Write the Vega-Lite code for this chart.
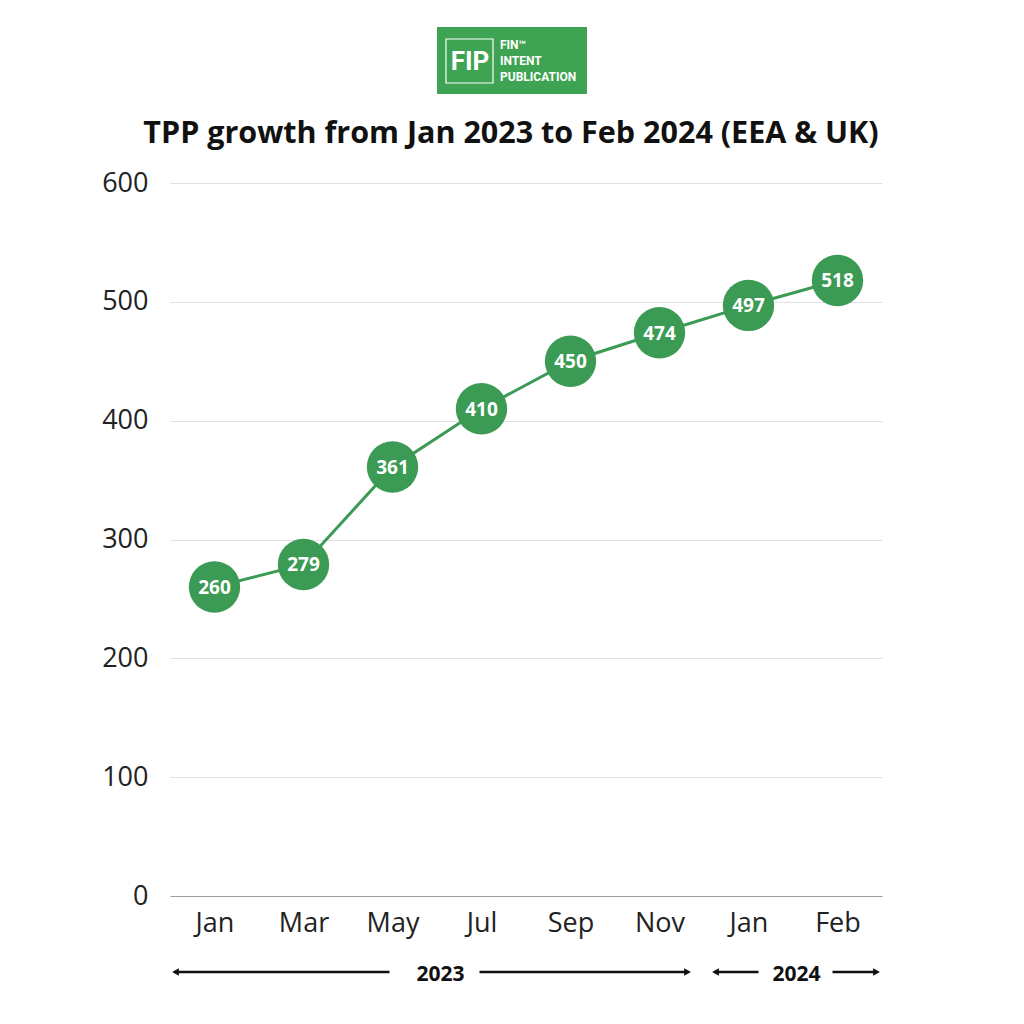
{
  "$schema": "https://vega.github.io/schema/vega-lite/v6.json",
  "autosize": {"type": "none"},
  "width": 712,
  "height": 713,
  "padding": {"left": 170, "top": 183, "right": 142, "bottom": 128},
  "background": "white",
  "config": {"view": {"stroke": null}},
  "datasets": {
    "tpp": [
      {"month": "Jan 2023", "tpp": 260},
      {"month": "Mar 2023", "tpp": 279},
      {"month": "May 2023", "tpp": 361},
      {"month": "Jul 2023", "tpp": 410},
      {"month": "Sep 2023", "tpp": 450},
      {"month": "Nov 2023", "tpp": 474},
      {"month": "Jan 2024", "tpp": 497},
      {"month": "Feb 2024", "tpp": 518}
    ],
    "years": [
      {"year": "2023", "first": "Jan 2023", "before": "May 2023", "after": "Jul 2023", "last": "Nov 2023"},
      {"year": "2024", "first": "Jan 2024", "before": "Jan 2024", "after": "Feb 2024", "last": "Feb 2024"}
    ],
    "logo": [
      {"brand": "FIP", "line1": "FIN™", "line2": "INTENT", "line3": "PUBLICATION", "title": "TPP growth from Jan 2023 to Feb 2024 (EEA & UK)"}
    ]
  },
  "layer": [
    {
      "data": {"name": "tpp"},
      "mark": {"type": "line", "color": "#3b9a53", "strokeWidth": 3},
      "encoding": {
        "x": {
          "field": "month",
          "type": "ordinal",
          "sort": null,
          "scale": {"type": "point", "padding": 0.5},
          "axis": {
            "title": null,
            "labelExpr": "split(datum.value, ' ')[0]",
            "labelAngle": 0,
            "labelFont": "Open Sans",
            "labelFontSize": 27,
            "labelColor": "#222222",
            "labelPadding": 14,
            "ticks": false,
            "domainColor": "#a0a0a0",
            "domainWidth": 1,
            "grid": false
          }
        },
        "y": {
          "field": "tpp",
          "type": "quantitative",
          "scale": {"domain": [0, 600], "nice": false},
          "axis": {
            "title": null,
            "values": [0, 100, 200, 300, 400, 500, 600],
            "labelFont": "Open Sans",
            "labelFontSize": 27,
            "labelColor": "#222222",
            "labelPadding": 22,
            "ticks": false,
            "domain": false,
            "gridColor": "#e2e2e2",
            "gridWidth": 1
          }
        }
      }
    },
    {
      "data": {"name": "tpp"},
      "mark": {"type": "circle", "size": 2640, "color": "#3b9a53", "opacity": 1},
      "encoding": {
        "x": {"field": "month", "type": "ordinal", "sort": null},
        "y": {"field": "tpp", "type": "quantitative"}
      }
    },
    {
      "data": {"name": "tpp"},
      "mark": {"type": "text", "font": "Open Sans", "fontWeight": "bold", "fontSize": 19, "color": "white", "baseline": "middle", "dy": 1},
      "encoding": {
        "x": {"field": "month", "type": "ordinal", "sort": null},
        "y": {"field": "tpp", "type": "quantitative"},
        "text": {"field": "tpp", "type": "quantitative"}
      }
    },
    {
      "data": {"name": "years"},
      "mark": {
        "type": "rule", "color": "#111111", "strokeWidth": 2.5,
        "xOffset": {"expr": "datum.year == '2023' ? -40 : -34"},
        "x2Offset": {"expr": "datum.year == '2023' ? -3 : 10"},
        "yOffset": 76
      },
      "encoding": {
        "x": {"field": "first", "type": "ordinal", "sort": null},
        "x2": {"field": "before"},
        "y": {"datum": 0, "type": "quantitative"}
      }
    },
    {
      "data": {"name": "years"},
      "mark": {
        "type": "rule", "color": "#111111", "strokeWidth": 2.5,
        "xOffset": {"expr": "datum.year == '2023' ? -2 : -5"},
        "x2Offset": {"expr": "datum.year == '2023' ? 29 : 40"},
        "yOffset": 76
      },
      "encoding": {
        "x": {"field": "after", "type": "ordinal", "sort": null},
        "x2": {"field": "last"},
        "y": {"datum": 0, "type": "quantitative"}
      }
    },
    {
      "data": {"name": "years"},
      "mark": {
        "type": "point", "shape": "triangle-left", "filled": true, "size": 60, "color": "#111111", "opacity": 1,
        "xOffset": {"expr": "datum.year == '2023' ? -39 : -33"},
        "yOffset": 76
      },
      "encoding": {
        "x": {"field": "first", "type": "ordinal", "sort": null},
        "y": {"datum": 0, "type": "quantitative"}
      }
    },
    {
      "data": {"name": "years"},
      "mark": {
        "type": "point", "shape": "triangle-right", "filled": true, "size": 60, "color": "#111111", "opacity": 1,
        "xOffset": {"expr": "datum.year == '2023' ? 28 : 39"},
        "yOffset": 76
      },
      "encoding": {
        "x": {"field": "last", "type": "ordinal", "sort": null},
        "y": {"datum": 0, "type": "quantitative"}
      }
    },
    {
      "data": {"name": "years"},
      "mark": {
        "type": "text", "font": "Open Sans", "fontWeight": "bold", "fontSize": 21, "color": "#111111",
        "baseline": "middle", "xOffset": 48, "yOffset": 79
      },
      "encoding": {
        "x": {"field": "before", "type": "ordinal", "sort": null},
        "y": {"datum": 0, "type": "quantitative"},
        "text": {"field": "year"}
      }
    },
    {
      "data": {"name": "logo"},
      "mark": {"type": "text", "font": "Open Sans", "fontWeight": "bold", "fontSize": 30.5, "color": "#111111", "align": "center", "baseline": "middle"},
      "encoding": {
        "x": {"value": {"expr": "width/2 - 15"}},
        "y": {"value": -49},
        "text": {"field": "title"}
      }
    },
    {
      "data": {"name": "logo"},
      "mark": {"type": "rect", "color": "#3ea352", "opacity": 1},
      "encoding": {
        "x": {"value": {"expr": "width/2 - 89"}},
        "x2": {"value": {"expr": "width/2 + 61"}},
        "y": {"value": -156},
        "y2": {"value": -89}
      }
    },
    {
      "data": {"name": "logo"},
      "mark": {"type": "rect", "fill": null, "filled": false, "stroke": "white", "strokeWidth": 1.2, "opacity": 1},
      "encoding": {
        "x": {"value": {"expr": "width/2 - 80"}},
        "x2": {"value": {"expr": "width/2 - 33"}},
        "y": {"value": -144},
        "y2": {"value": -100}
      }
    },
    {
      "data": {"name": "logo"},
      "mark": {"type": "text", "font": "Roboto", "fontWeight": "bold", "fontSize": 26, "color": "white", "align": "center", "baseline": "middle"},
      "encoding": {
        "x": {"value": {"expr": "width/2 - 56"}},
        "y": {"value": -121},
        "text": {"field": "brand"}
      }
    },
    {
      "data": {"name": "logo"},
      "mark": {"type": "text", "font": "Roboto", "fontWeight": "bold", "fontSize": 12, "color": "white", "align": "left", "baseline": "middle"},
      "encoding": {
        "x": {"value": {"expr": "width/2 - 26"}},
        "y": {"value": -138},
        "text": {"field": "line1"}
      }
    },
    {
      "data": {"name": "logo"},
      "mark": {"type": "text", "font": "Roboto", "fontWeight": "bold", "fontSize": 12, "color": "white", "align": "left", "baseline": "middle"},
      "encoding": {
        "x": {"value": {"expr": "width/2 - 26"}},
        "y": {"value": -122},
        "text": {"field": "line2"}
      }
    },
    {
      "data": {"name": "logo"},
      "mark": {"type": "text", "font": "Roboto", "fontWeight": "bold", "fontSize": 12, "color": "white", "align": "left", "baseline": "middle"},
      "encoding": {
        "x": {"value": {"expr": "width/2 - 26"}},
        "y": {"value": -106},
        "text": {"field": "line3"}
      }
    }
  ]
}
